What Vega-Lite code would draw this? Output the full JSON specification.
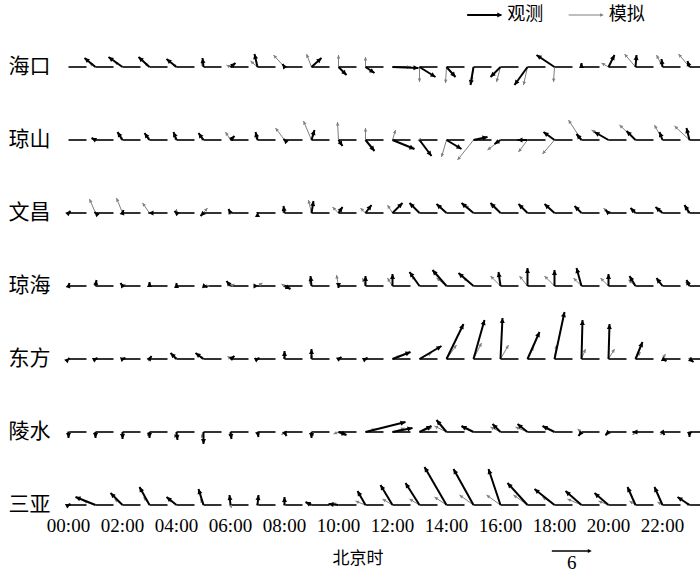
{
"$schema": "https://vega.github.io/schema/vega-lite/v6.json",
"padding": {"left": 8, "top": 6, "right": 0, "bottom": 0},
"bounds": "flush",
"config": {"view": {"stroke": null}, "font": "Liberation Serif"},
"data": {"values": [
{"s":"海口","h":"00:00","uo":0,"vo":0,"ao":0,"us":0,"vs":0,"as":0},
{"s":"海口","h":"01:00","uo":-1.65,"vo":1.35,"ao":-51,"us":-0.9,"vs":0.6,"as":-56},
{"s":"海口","h":"02:00","uo":-2.1,"vo":1.5,"ao":-54,"us":-1.2,"vs":0.75,"as":-58},
{"s":"海口","h":"03:00","uo":-1.65,"vo":1.5,"ao":-48,"us":-0.75,"vs":0.6,"as":-51},
{"s":"海口","h":"04:00","uo":-1.5,"vo":1.2,"ao":-51,"us":-0.6,"vs":0.45,"as":-53},
{"s":"海口","h":"05:00","uo":-0.15,"vo":1.35,"ao":-6,"us":-0.3,"vs":0.75,"as":-22},
{"s":"海口","h":"06:00","uo":0.75,"vo":0.6,"ao":51,"us":-0.6,"vs":0.3,"as":-63},
{"s":"海口","h":"07:00","uo":-0.45,"vo":1.95,"ao":-13,"us":-1.05,"vs":0.9,"as":-49},
{"s":"海口","h":"08:00","uo":-0.3,"vo":0.45,"ao":-34,"us":-1.65,"vs":1.8,"as":-42},
{"s":"海口","h":"09:00","uo":1.5,"vo":1.35,"ao":48,"us":-0.75,"vs":1.95,"as":-21},
{"s":"海口","h":"10:00","uo":1.2,"vo":-1.2,"ao":135,"us":0,"vs":1.8,"as":0},
{"s":"海口","h":"11:00","uo":1.35,"vo":-0.9,"ao":124,"us":0,"vs":1.5,"as":0},
{"s":"海口","h":"12:00","uo":3.9,"vo":-0.15,"ao":92,"us":2.7,"vs":0,"as":90},
{"s":"海口","h":"13:00","uo":2.4,"vo":-1.5,"ao":122,"us":0,"vs":-2.25,"as":180},
{"s":"海口","h":"14:00","uo":1.35,"vo":-1.5,"ao":138,"us":-0.15,"vs":-2.4,"as":-176},
{"s":"海口","h":"15:00","uo":-0.45,"vo":-2.7,"ao":-171,"us":-0.3,"vs":-2.1,"as":-172},
{"s":"海口","h":"16:00","uo":-1.5,"vo":-1.5,"ao":-135,"us":-0.6,"vs":-2.25,"as":-165},
{"s":"海口","h":"17:00","uo":-1.95,"vo":-2.7,"ao":-144,"us":-0.6,"vs":-2.7,"as":-167},
{"s":"海口","h":"18:00","uo":-2.7,"vo":1.8,"ao":-56,"us":-0.15,"vs":-2.25,"as":-176},
{"s":"海口","h":"19:00","uo":0,"vo":0.6,"ao":0,"us":-0.15,"vs":0.45,"as":-18},
{"s":"海口","h":"20:00","uo":0.9,"vo":1.8,"ao":27,"us":-1.05,"vs":0.6,"as":-60},
{"s":"海口","h":"21:00","uo":0.15,"vo":1.8,"ao":5,"us":-1.65,"vs":1.95,"as":-40},
{"s":"海口","h":"22:00","uo":-0.15,"vo":1.2,"ao":-7,"us":-0.9,"vs":1.8,"as":-27},
{"s":"海口","h":"23:00","uo":-0.3,"vo":0.9,"ao":-18,"us":-1.65,"vs":1.95,"as":-40},
{"s":"琼山","h":"00:00","uo":0,"vo":0,"ao":0,"us":0,"vs":0,"as":0},
{"s":"琼山","h":"01:00","uo":-0.6,"vo":0.3,"ao":-63,"us":-0.45,"vs":0.15,"as":-72},
{"s":"琼山","h":"02:00","uo":-0.75,"vo":1.2,"ao":-32,"us":-0.45,"vs":0.6,"as":-37},
{"s":"琼山","h":"03:00","uo":-0.75,"vo":1.05,"ao":-35,"us":-0.45,"vs":0.6,"as":-37},
{"s":"琼山","h":"04:00","uo":-0.45,"vo":1.2,"ao":-21,"us":-0.3,"vs":0.6,"as":-27},
{"s":"琼山","h":"05:00","uo":-0.75,"vo":1.05,"ao":-35,"us":-0.45,"vs":0.45,"as":-45},
{"s":"琼山","h":"06:00","uo":0.6,"vo":0.6,"ao":45,"us":-0.75,"vs":1.2,"as":-32},
{"s":"琼山","h":"07:00","uo":-0.3,"vo":1.2,"ao":-14,"us":-0.15,"vs":0.75,"as":-11},
{"s":"琼山","h":"08:00","uo":-0.15,"vo":0.15,"ao":-45,"us":-1.35,"vs":1.8,"as":-37},
{"s":"琼山","h":"09:00","uo":0.45,"vo":1.5,"ao":17,"us":-1.2,"vs":2.85,"as":-23},
{"s":"琼山","h":"10:00","uo":0.6,"vo":-0.9,"ao":146,"us":-0.15,"vs":2.7,"as":-3},
{"s":"琼山","h":"11:00","uo":1.35,"vo":-1.65,"ao":141,"us":0,"vs":1.8,"as":0},
{"s":"琼山","h":"12:00","uo":3.3,"vo":-1.35,"ao":112,"us":0.45,"vs":1.5,"as":17},
{"s":"琼山","h":"13:00","uo":1.8,"vo":-2.4,"ao":143,"us":0.15,"vs":0.3,"as":27},
{"s":"琼山","h":"14:00","uo":2.25,"vo":-1.35,"ao":121,"us":-0.75,"vs":-2.55,"as":-164},
{"s":"琼山","h":"15:00","uo":2.1,"vo":0.45,"ao":78,"us":-2.4,"vs":-3.0,"as":-141},
{"s":"琼山","h":"16:00","uo":-0.9,"vo":-0.6,"ao":-124,"us":-1.95,"vs":-1.5,"as":-128},
{"s":"琼山","h":"17:00","uo":-1.5,"vo":0,"ao":-90,"us":-1.35,"vs":-1.8,"as":-143},
{"s":"琼山","h":"18:00","uo":-1.65,"vo":1.2,"ao":-54,"us":-1.8,"vs":-2.1,"as":-139},
{"s":"琼山","h":"19:00","uo":-0.75,"vo":0.9,"ao":-40,"us":-1.95,"vs":3.0,"as":-33},
{"s":"琼山","h":"20:00","uo":-2.1,"vo":1.2,"ao":-60,"us":-2.55,"vs":1.5,"as":-60},
{"s":"琼山","h":"21:00","uo":-1.35,"vo":1.35,"ao":-45,"us":-2.4,"vs":2.25,"as":-47},
{"s":"琼山","h":"22:00","uo":-0.45,"vo":1.2,"ao":-21,"us":-1.2,"vs":2.25,"as":-28},
{"s":"琼山","h":"23:00","uo":-0.45,"vo":1.8,"ao":-14,"us":-2.25,"vs":2.1,"as":-47},
{"s":"文昌","h":"00:00","uo":0.3,"vo":0.3,"ao":45,"us":0,"vs":0,"as":0},
{"s":"文昌","h":"01:00","uo":-0.15,"vo":0.15,"ao":-45,"us":-0.9,"vs":2.1,"as":-23},
{"s":"文昌","h":"02:00","uo":0.15,"vo":0.45,"ao":18,"us":-0.9,"vs":2.25,"as":-22},
{"s":"文昌","h":"03:00","uo":-0.15,"vo":0,"ao":-90,"us":-1.05,"vs":1.5,"as":-35},
{"s":"文昌","h":"04:00","uo":-0.3,"vo":0.3,"ao":-45,"us":0,"vs":0.6,"as":0},
{"s":"文昌","h":"05:00","uo":-0.45,"vo":-0.45,"ao":-135,"us":0.6,"vs":0.75,"as":39},
{"s":"文昌","h":"06:00","uo":-0.3,"vo":0.6,"ao":-27,"us":-0.15,"vs":0.3,"as":-27},
{"s":"文昌","h":"07:00","uo":0,"vo":0.15,"ao":0,"us":0,"vs":0,"as":0},
{"s":"文昌","h":"08:00","uo":-0.15,"vo":1.05,"ao":-8,"us":-0.3,"vs":0.6,"as":-27},
{"s":"文昌","h":"09:00","uo":0.3,"vo":1.8,"ao":9,"us":-0.45,"vs":1.95,"as":-13},
{"s":"文昌","h":"10:00","uo":0.6,"vo":0.9,"ao":34,"us":-0.9,"vs":0.9,"as":-45},
{"s":"文昌","h":"11:00","uo":0.9,"vo":1.2,"ao":37,"us":-0.75,"vs":0.75,"as":-45},
{"s":"文昌","h":"12:00","uo":1.5,"vo":1.5,"ao":45,"us":-0.75,"vs":1.2,"as":-32},
{"s":"文昌","h":"13:00","uo":-1.5,"vo":1.5,"ao":-45,"us":-1.5,"vs":1.5,"as":-45},
{"s":"文昌","h":"14:00","uo":-1.5,"vo":1.35,"ao":-48,"us":-1.2,"vs":1.2,"as":-45},
{"s":"文昌","h":"15:00","uo":-1.8,"vo":1.5,"ao":-50,"us":-1.2,"vs":1.2,"as":-45},
{"s":"文昌","h":"16:00","uo":-1.5,"vo":1.5,"ao":-45,"us":-1.5,"vs":1.2,"as":-51},
{"s":"文昌","h":"17:00","uo":-1.35,"vo":1.35,"ao":-45,"us":-1.2,"vs":1.05,"as":-49},
{"s":"文昌","h":"18:00","uo":-1.5,"vo":1.35,"ao":-48,"us":-1.35,"vs":1.2,"as":-48},
{"s":"文昌","h":"19:00","uo":-1.05,"vo":1.05,"ao":-45,"us":-0.9,"vs":0.9,"as":-45},
{"s":"文昌","h":"20:00","uo":-0.45,"vo":0.45,"ao":-45,"us":-0.75,"vs":0.75,"as":-45},
{"s":"文昌","h":"21:00","uo":-0.75,"vo":0.75,"ao":-45,"us":-0.75,"vs":0.75,"as":-45},
{"s":"文昌","h":"22:00","uo":-1.05,"vo":0.9,"ao":-49,"us":-0.6,"vs":0.6,"as":-45},
{"s":"文昌","h":"23:00","uo":-0.75,"vo":1.2,"ao":-32,"us":-0.45,"vs":0.45,"as":-45},
{"s":"琼海","h":"00:00","uo":0.15,"vo":0.45,"ao":18,"us":0,"vs":0,"as":0},
{"s":"琼海","h":"01:00","uo":0.15,"vo":0.9,"ao":9,"us":0,"vs":0.6,"as":0},
{"s":"琼海","h":"02:00","uo":-0.3,"vo":0.45,"ao":-34,"us":0.45,"vs":0.3,"as":56},
{"s":"琼海","h":"03:00","uo":0,"vo":0.6,"ao":0,"us":0.15,"vs":0.45,"as":18},
{"s":"琼海","h":"04:00","uo":0,"vo":0.45,"ao":0,"us":0,"vs":0.3,"as":0},
{"s":"琼海","h":"05:00","uo":0.6,"vo":-0.15,"ao":104,"us":0.9,"vs":0,"as":90},
{"s":"琼海","h":"06:00","uo":-0.6,"vo":0.75,"ao":-39,"us":0.6,"vs":0.3,"as":63},
{"s":"琼海","h":"07:00","uo":0.15,"vo":0,"ao":90,"us":0.75,"vs":0.45,"as":59},
{"s":"琼海","h":"08:00","uo":0.9,"vo":-0.45,"ao":117,"us":-0.45,"vs":0.3,"as":-56},
{"s":"琼海","h":"09:00","uo":-0.15,"vo":1.5,"ao":-6,"us":-0.3,"vs":0.9,"as":-18},
{"s":"琼海","h":"10:00","uo":0,"vo":-0.3,"ao":180,"us":-0.3,"vs":1.65,"as":-10},
{"s":"琼海","h":"11:00","uo":0,"vo":1.5,"ao":0,"us":-0.45,"vs":1.2,"as":-21},
{"s":"琼海","h":"12:00","uo":0,"vo":1.8,"ao":0,"us":-0.75,"vs":1.2,"as":-32},
{"s":"琼海","h":"13:00","uo":-1.5,"vo":2.1,"ao":-36,"us":-1.2,"vs":1.5,"as":-39},
{"s":"琼海","h":"14:00","uo":-2.1,"vo":2.4,"ao":-41,"us":-1.5,"vs":1.2,"as":-51},
{"s":"琼海","h":"15:00","uo":-2.25,"vo":1.95,"ao":-49,"us":-1.5,"vs":1.2,"as":-51},
{"s":"琼海","h":"16:00","uo":-0.3,"vo":2.1,"ao":-8,"us":-1.5,"vs":1.5,"as":-45},
{"s":"琼海","h":"17:00","uo":0,"vo":2.7,"ao":0,"us":-1.2,"vs":1.5,"as":-39},
{"s":"琼海","h":"18:00","uo":0,"vo":2.4,"ao":0,"us":-1.5,"vs":1.5,"as":-45},
{"s":"琼海","h":"19:00","uo":-0.75,"vo":2.7,"ao":-16,"us":-1.2,"vs":1.2,"as":-45},
{"s":"琼海","h":"20:00","uo":0,"vo":1.8,"ao":0,"us":-1.2,"vs":1.2,"as":-45},
{"s":"琼海","h":"21:00","uo":-0.9,"vo":1.5,"ao":-31,"us":-1.05,"vs":0.9,"as":-49},
{"s":"琼海","h":"22:00","uo":-0.9,"vo":1.2,"ao":-37,"us":-0.9,"vs":0.9,"as":-45},
{"s":"琼海","h":"23:00","uo":-0.45,"vo":0.9,"ao":-27,"us":-0.6,"vs":0.6,"as":-45},
{"s":"东方","h":"00:00","uo":0.15,"vo":0.15,"ao":45,"us":0,"vs":0,"as":0},
{"s":"东方","h":"01:00","uo":0.3,"vo":0.15,"ao":63,"us":0.15,"vs":0.15,"as":45},
{"s":"东方","h":"02:00","uo":0.45,"vo":0.15,"ao":72,"us":0.3,"vs":0.15,"as":63},
{"s":"东方","h":"03:00","uo":0.3,"vo":0.45,"ao":34,"us":0.15,"vs":0.15,"as":45},
{"s":"东方","h":"04:00","uo":-0.9,"vo":0.9,"ao":-45,"us":-0.45,"vs":0.45,"as":-45},
{"s":"东方","h":"05:00","uo":-1.2,"vo":0.9,"ao":-53,"us":-0.6,"vs":0.45,"as":-53},
{"s":"东方","h":"06:00","uo":0.6,"vo":0.45,"ao":53,"us":-0.45,"vs":0.45,"as":-45},
{"s":"东方","h":"07:00","uo":0.3,"vo":0.15,"ao":63,"us":0.15,"vs":0,"as":90},
{"s":"东方","h":"08:00","uo":0,"vo":1.2,"ao":0,"us":0,"vs":0.6,"as":0},
{"s":"东方","h":"09:00","uo":0,"vo":1.5,"ao":0,"us":0,"vs":0.75,"as":0},
{"s":"东方","h":"10:00","uo":0.45,"vo":0.3,"ao":56,"us":0.3,"vs":0.15,"as":63},
{"s":"东方","h":"11:00","uo":0.3,"vo":0.15,"ao":63,"us":0.3,"vs":0.3,"as":45},
{"s":"东方","h":"12:00","uo":2.7,"vo":1.05,"ao":69,"us":1.2,"vs":0.45,"as":69},
{"s":"东方","h":"13:00","uo":3.3,"vo":1.95,"ao":59,"us":1.8,"vs":0.9,"as":63},
{"s":"东方","h":"14:00","uo":2.55,"vo":5.25,"ao":26,"us":1.5,"vs":2.1,"as":36},
{"s":"东方","h":"15:00","uo":1.65,"vo":5.85,"ao":16,"us":1.2,"vs":2.4,"as":27},
{"s":"东方","h":"16:00","uo":0.3,"vo":6.15,"ao":3,"us":1.2,"vs":2.1,"as":30},
{"s":"东方","h":"17:00","uo":1.8,"vo":4.05,"ao":24,"us":0.9,"vs":1.8,"as":27},
{"s":"东方","h":"18:00","uo":1.5,"vo":7.05,"ao":12,"us":0.3,"vs":2.1,"as":8},
{"s":"东方","h":"19:00","uo":0.15,"vo":5.85,"ao":2,"us":0.6,"vs":1.5,"as":22},
{"s":"东方","h":"20:00","uo":0.15,"vo":5.25,"ao":2,"us":0.9,"vs":1.5,"as":31},
{"s":"东方","h":"21:00","uo":1.05,"vo":2.55,"ao":22,"us":0.75,"vs":1.05,"as":36},
{"s":"东方","h":"22:00","uo":0.6,"vo":-0.3,"ao":117,"us":0.45,"vs":0.75,"as":31},
{"s":"东方","h":"23:00","uo":0.6,"vo":-0.45,"ao":127,"us":0.3,"vs":0.3,"as":45},
{"s":"陵水","h":"00:00","uo":0,"vo":-0.9,"ao":180,"us":0,"vs":-0.45,"as":180},
{"s":"陵水","h":"01:00","uo":0,"vo":-0.9,"ao":180,"us":-0.15,"vs":-0.6,"as":-166},
{"s":"陵水","h":"02:00","uo":0,"vo":-1.05,"ao":180,"us":0.15,"vs":-0.75,"as":169},
{"s":"陵水","h":"03:00","uo":0,"vo":-0.9,"ao":180,"us":-0.3,"vs":-0.6,"as":-153},
{"s":"陵水","h":"04:00","uo":0.15,"vo":-1.2,"ao":173,"us":-0.3,"vs":-0.9,"as":-162},
{"s":"陵水","h":"05:00","uo":0,"vo":-1.8,"ao":180,"us":-0.3,"vs":-0.9,"as":-162},
{"s":"陵水","h":"06:00","uo":0.15,"vo":-1.05,"ao":172,"us":0,"vs":-0.75,"as":180},
{"s":"陵水","h":"07:00","uo":0.15,"vo":-0.75,"ao":169,"us":0.3,"vs":-0.45,"as":146},
{"s":"陵水","h":"08:00","uo":0.3,"vo":-0.6,"ao":153,"us":-0.45,"vs":-0.45,"as":-135},
{"s":"陵水","h":"09:00","uo":0,"vo":-0.9,"ao":180,"us":0.3,"vs":-0.6,"as":153},
{"s":"陵水","h":"10:00","uo":1.2,"vo":-0.45,"ao":111,"us":-0.75,"vs":-0.3,"as":-112},
{"s":"陵水","h":"11:00","uo":6.0,"vo":1.5,"ao":76,"us":1.5,"vs":0.45,"as":73},
{"s":"陵水","h":"12:00","uo":3.0,"vo":0.6,"ao":79,"us":1.8,"vs":0.6,"as":72},
{"s":"陵水","h":"13:00","uo":1.8,"vo":0.9,"ao":63,"us":1.8,"vs":0.6,"as":72},
{"s":"陵水","h":"14:00","uo":-1.5,"vo":1.8,"ao":-40,"us":-1.8,"vs":0.9,"as":-63},
{"s":"陵水","h":"15:00","uo":-1.8,"vo":0.9,"ao":-63,"us":-1.8,"vs":0.75,"as":-67},
{"s":"陵水","h":"16:00","uo":-1.2,"vo":1.2,"ao":-45,"us":-1.5,"vs":0.75,"as":-63},
{"s":"陵水","h":"17:00","uo":-1.5,"vo":1.2,"ao":-51,"us":-1.8,"vs":0.75,"as":-67},
{"s":"陵水","h":"18:00","uo":-1.8,"vo":0.9,"ao":-63,"us":-1.5,"vs":0.75,"as":-63},
{"s":"陵水","h":"19:00","uo":-0.45,"vo":-0.6,"ao":-143,"us":-0.6,"vs":0.45,"as":-53},
{"s":"陵水","h":"20:00","uo":-0.45,"vo":-0.45,"ao":-135,"us":-0.45,"vs":-0.6,"as":-143},
{"s":"陵水","h":"21:00","uo":-0.45,"vo":0,"ao":-90,"us":-0.45,"vs":-0.45,"as":-135},
{"s":"陵水","h":"22:00","uo":0.3,"vo":-0.45,"ao":146,"us":-0.3,"vs":-0.45,"as":-146},
{"s":"陵水","h":"23:00","uo":0,"vo":-0.75,"ao":180,"us":-0.15,"vs":-0.45,"as":-162},
{"s":"三亚","h":"00:00","uo":0.3,"vo":0.15,"ao":63,"us":0.15,"vs":0.15,"as":45},
{"s":"三亚","h":"01:00","uo":-3.0,"vo":1.2,"ao":-68,"us":-1.8,"vs":0.6,"as":-72},
{"s":"三亚","h":"02:00","uo":-1.8,"vo":1.8,"ao":-45,"us":-1.2,"vs":0.9,"as":-53},
{"s":"三亚","h":"03:00","uo":-1.5,"vo":2.7,"ao":-29,"us":-0.9,"vs":1.2,"as":-37},
{"s":"三亚","h":"04:00","uo":-1.5,"vo":1.2,"ao":-51,"us":-1.2,"vs":0.9,"as":-53},
{"s":"三亚","h":"05:00","uo":-0.75,"vo":2.4,"ao":-17,"us":-0.45,"vs":0.9,"as":-27},
{"s":"三亚","h":"06:00","uo":-0.15,"vo":1.5,"ao":-6,"us":0.15,"vs":-0.45,"as":162},
{"s":"三亚","h":"07:00","uo":0.15,"vo":1.5,"ao":6,"us":0,"vs":0.45,"as":0},
{"s":"三亚","h":"08:00","uo":0,"vo":1.2,"ao":0,"us":0,"vs":0.45,"as":0},
{"s":"三亚","h":"09:00","uo":-0.9,"vo":0.45,"ao":-63,"us":-0.6,"vs":0.3,"as":-63},
{"s":"三亚","h":"10:00","uo":-1.5,"vo":0.15,"ao":-84,"us":-0.9,"vs":0.3,"as":-72},
{"s":"三亚","h":"11:00","uo":-1.2,"vo":2.1,"ao":-30,"us":-1.5,"vs":0.6,"as":-68},
{"s":"三亚","h":"12:00","uo":-1.8,"vo":3.0,"ao":-31,"us":-1.5,"vs":0.9,"as":-59},
{"s":"三亚","h":"13:00","uo":-2.1,"vo":3.3,"ao":-32,"us":-1.5,"vs":0.9,"as":-59},
{"s":"三亚","h":"14:00","uo":-3.3,"vo":5.7,"ao":-30,"us":-1.8,"vs":1.2,"as":-56},
{"s":"三亚","h":"15:00","uo":-3.0,"vo":5.4,"ao":-29,"us":-2.1,"vs":1.5,"as":-54},
{"s":"三亚","h":"16:00","uo":-1.8,"vo":5.4,"ao":-18,"us":-2.1,"vs":1.5,"as":-54},
{"s":"三亚","h":"17:00","uo":-3.0,"vo":3.3,"ao":-42,"us":-2.1,"vs":1.5,"as":-54},
{"s":"三亚","h":"18:00","uo":-3.0,"vo":2.4,"ao":-51,"us":-1.8,"vs":1.2,"as":-56},
{"s":"三亚","h":"19:00","uo":-2.4,"vo":2.1,"ao":-49,"us":-2.1,"vs":0.9,"as":-67},
{"s":"三亚","h":"20:00","uo":-2.1,"vo":1.8,"ao":-49,"us":-1.5,"vs":0.6,"as":-68},
{"s":"三亚","h":"21:00","uo":-1.2,"vo":2.7,"ao":-24,"us":-0.9,"vs":0.6,"as":-56},
{"s":"三亚","h":"22:00","uo":-1.2,"vo":2.7,"ao":-24,"us":-0.75,"vs":0.45,"as":-59},
{"s":"三亚","h":"23:00","uo":-1.8,"vo":1.2,"ao":-56,"us":-0.6,"vs":0.3,"as":-63}
]},
"facet": {
  "row": {"field": "s", "type": "nominal", "sort": ["海口","琼山","文昌","琼海","东方","陵水","三亚"], "title": null,
    "header": {"labels": false}},
  "column": {"field": "h", "type": "ordinal", "title": "北京时",
    "header": {"orient": "bottom", "labelFont": "Liberation Serif", "labelFontSize": 19, "labelColor": "#000", "labelPadding": 0, "labelExpr": "parseInt(datum.value) % 2 == 0 ? datum.value : ''", "titleFont": "Noto Sans CJK SC", "titleFontSize": 17, "titleFontWeight": "normal", "titleColor": "#000", "titlePadding": 5}}
},
"spacing": {"row": 0, "column": 0},
"spec": {
  "width": 27,
  "height": 73,
  "layer": [
    {"mark": {"type": "tick", "orient": "horizontal", "color": "#000", "opacity": 1, "size": 18, "thickness": 1.6},
     "encoding": {
       "x": {"datum": 1.35, "type": "quantitative", "scale": {"domain": [-2.025, 2.025], "nice": false, "zero": false}, "axis": null},
       "y": {"datum": 0, "type": "quantitative", "scale": {"domain": [-1.8, 9.15], "nice": false, "zero": false}, "axis": null}}},
    {"transform": [{"filter": "datum.h == '00:00'"}],
     "mark": {"type": "text", "font": "Noto Sans CJK SC", "fontSize": 21, "fill": "#000", "align": "center", "baseline": "middle"},
     "encoding": {
       "x": {"datum": -5.85, "type": "quantitative"},
       "y": {"datum": 0, "type": "quantitative"},
       "text": {"field": "s", "type": "nominal"}}},
    {"mark": {"type": "rule", "stroke": "#7f7f7f", "strokeWidth": 1},
     "encoding": {
       "x": {"field": "us", "type": "quantitative"},
       "y": {"field": "vs", "type": "quantitative"},
       "x2": {"datum": 0},
       "y2": {"datum": 0}}},
    {"transform": [{"filter": "datum.us != 0 || datum.vs != 0"}],
     "mark": {"type": "point", "shape": "M0,0L-0.5,1L0.5,1Z", "filled": true, "fill": "#7f7f7f", "size": 49, "strokeWidth": 0, "opacity": 1},
     "encoding": {
       "x": {"field": "us", "type": "quantitative"},
       "y": {"field": "vs", "type": "quantitative"},
       "angle": {"field": "as", "type": "quantitative", "scale": {"domain": [-180, 180], "range": [-180, 180]}}}},
    {"mark": {"type": "rule", "stroke": "#000", "strokeWidth": 2},
     "encoding": {
       "x": {"field": "uo", "type": "quantitative"},
       "y": {"field": "vo", "type": "quantitative"},
       "x2": {"datum": 0},
       "y2": {"datum": 0}}},
    {"transform": [{"filter": "datum.uo != 0 || datum.vo != 0"}],
     "mark": {"type": "point", "shape": "M0,0L-0.5,1L0.5,1Z", "filled": true, "fill": "#000000", "size": 100, "strokeWidth": 0, "opacity": 1},
     "encoding": {
       "x": {"field": "uo", "type": "quantitative"},
       "y": {"field": "vo", "type": "quantitative"},
       "angle": {"field": "ao", "type": "quantitative", "scale": {"domain": [-180, 180], "range": [-180, 180]}}}},
    {"transform": [{"filter": "datum.s == '三亚' && datum.h == '18:00'"}],
     "mark": {"type": "tick", "orient": "horizontal", "color": "#000", "opacity": 1, "size": 38, "thickness": 1.6},
     "encoding": {
       "x": {"datum": 2.45, "type": "quantitative"},
       "y": {"datum": -6.9, "type": "quantitative"}}},
    {"transform": [{"filter": "datum.s == '三亚' && datum.h == '18:00'"}],
     "mark": {"type": "point", "shape": "M0,0L-0.5,1L0.5,1Z", "filled": true, "fill": "#000000", "size": 64, "strokeWidth": 0, "opacity": 1, "angle": 90},
     "encoding": {
       "x": {"datum": 5.6, "type": "quantitative"},
       "y": {"datum": -6.9, "type": "quantitative"}}},
    {"transform": [{"filter": "datum.s == '三亚' && datum.h == '18:00'"}],
     "mark": {"type": "text", "font": "Liberation Serif", "fontSize": 19, "fill": "#000"},
     "encoding": {
       "x": {"datum": 2.6, "type": "quantitative"},
       "y": {"datum": -8.7, "type": "quantitative"},
       "text": {"value": "6"}}},
    {"transform": [{"filter": "datum.s == '海口' && datum.h == '15:00'"}],
     "mark": {"type": "tick", "orient": "horizontal", "color": "#000", "opacity": 1, "size": 34, "thickness": 2},
     "encoding": {
       "x": {"datum": 1.6, "type": "quantitative"},
       "y": {"datum": 7.8, "type": "quantitative"}}},
    {"transform": [{"filter": "datum.s == '海口' && datum.h == '15:00'"}],
     "mark": {"type": "point", "shape": "M0,0L-0.5,1L0.5,1Z", "filled": true, "fill": "#000000", "size": 100, "strokeWidth": 0, "opacity": 1, "angle": 90},
     "encoding": {
       "x": {"datum": 4.31, "type": "quantitative"},
       "y": {"datum": 7.8, "type": "quantitative"}}},
    {"transform": [{"filter": "datum.s == '海口' && datum.h == '15:00'"}],
     "mark": {"type": "text", "font": "Noto Sans CJK SC", "fontSize": 18, "fill": "#000", "align": "left", "baseline": "middle"},
     "encoding": {
       "x": {"datum": 5.06, "type": "quantitative"},
       "y": {"datum": 7.8, "type": "quantitative"},
       "text": {"value": "观测"}}},
    {"transform": [{"filter": "datum.s == '海口' && datum.h == '19:00'"}],
     "mark": {"type": "tick", "orient": "horizontal", "color": "#7f7f7f", "opacity": 1, "size": 34, "thickness": 1},
     "encoding": {
       "x": {"datum": 0.62, "type": "quantitative"},
       "y": {"datum": 7.8, "type": "quantitative"}}},
    {"transform": [{"filter": "datum.s == '海口' && datum.h == '19:00'"}],
     "mark": {"type": "point", "shape": "M0,0L-0.5,1L0.5,1Z", "filled": true, "fill": "#7f7f7f", "size": 49, "strokeWidth": 0, "opacity": 1, "angle": 90},
     "encoding": {
       "x": {"datum": 3.32, "type": "quantitative"},
       "y": {"datum": 7.8, "type": "quantitative"}}},
    {"transform": [{"filter": "datum.s == '海口' && datum.h == '19:00'"}],
     "mark": {"type": "text", "font": "Noto Sans CJK SC", "fontSize": 18, "fill": "#000", "align": "left", "baseline": "middle"},
     "encoding": {
       "x": {"datum": 4.07, "type": "quantitative"},
       "y": {"datum": 7.8, "type": "quantitative"},
       "text": {"value": "模拟"}}}
  ]
}
}
